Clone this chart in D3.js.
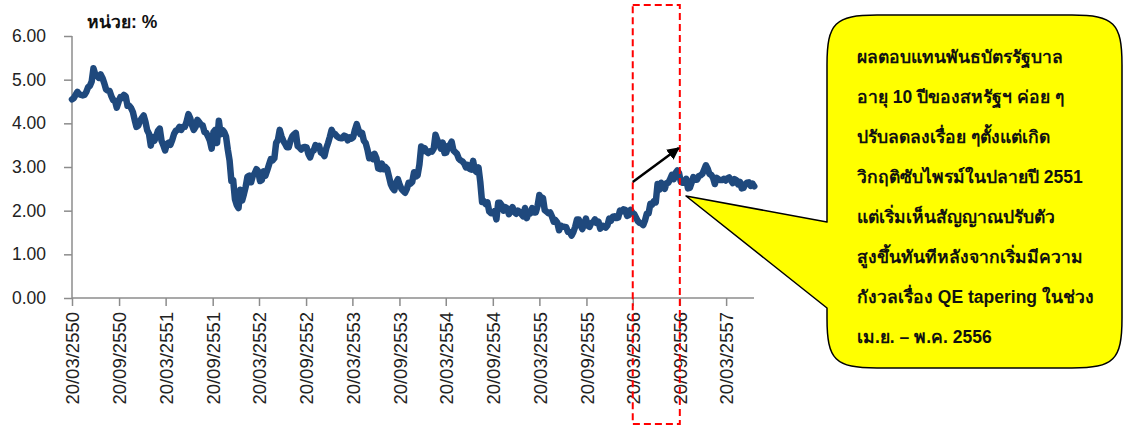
<!DOCTYPE html>
<html>
<head>
<meta charset="utf-8">
<script src="https://cdn.jsdelivr.net/npm/d3@7"></script>
<style>
  body { margin: 0; background: #fff; }
  svg text { font-family: "Liberation Sans", Arial, sans-serif; }
</style>
</head>
<body>
<div id="chart"></div>
<script>
// weekly 10Y US treasury yield (%), first point 20/03/2550 (2007-03-20)
const yields2007 = [4.55, 4.58, 4.65, 4.72, 4.67, 4.65, 4.64, 4.65, 4.72, 4.83, 4.86, 4.96, 5.26, 5.12, 5.09, 5.04, 5.12, 5.04, 4.92, 4.78,
  4.75, 4.74, 4.62, 4.53, 4.52, 4.36, 4.49, 4.60, 4.58, 4.65, 4.62, 4.40, 4.40, 4.35, 4.26, 4.08, 3.92, 3.95, 4.06, 4.12, 4.18];
const yields2008 = [4.04, 3.84, 3.76, 3.49, 3.69, 3.60, 3.70, 3.83, 3.88, 3.60, 3.50, 3.38, 3.53, 3.56, 3.51, 3.62, 3.76, 3.83, 3.85, 3.92,
  3.85, 3.92, 3.92, 4.04, 4.21, 4.12, 3.96, 3.85, 3.92, 4.08, 4.03, 3.97, 3.95, 3.80, 3.78, 3.70, 3.60, 3.42, 3.80, 3.85,
  3.55, 4.06, 3.75, 3.85, 3.80, 3.70, 3.40, 3.15, 2.68, 2.70, 2.26, 2.13, 2.06];
const yields2009 = [2.48, 2.23, 2.38, 2.55, 2.78, 2.80, 2.65, 2.80, 2.85, 2.95, 2.90, 2.68, 2.70, 2.90, 2.80, 2.92, 3.05, 3.18, 3.15, 3.20,
  3.55, 3.62, 3.85, 3.70, 3.60, 3.53, 3.45, 3.45, 3.60, 3.70, 3.75, 3.78, 3.48, 3.45, 3.40, 3.45, 3.46, 3.45, 3.30, 3.22,
  3.35, 3.38, 3.50, 3.45, 3.48, 3.33, 3.31, 3.25, 3.43, 3.55, 3.69, 3.85];
const yields2010 = [3.77, 3.75, 3.70, 3.67, 3.66, 3.66, 3.72, 3.70, 3.61, 3.68, 3.65, 3.68, 3.85, 3.98, 3.85, 3.75, 3.78, 3.60, 3.55, 3.40,
  3.20, 3.28, 3.18, 3.30, 3.20, 2.97, 2.95, 3.08, 2.95, 3.00, 2.95, 2.78, 2.61, 2.52, 2.47, 2.64, 2.72, 2.59, 2.50, 2.45,
  2.41, 2.50, 2.64, 2.62, 2.66, 2.88, 2.78, 2.81, 3.05, 3.47, 3.36, 3.43];
const yields2011 = [3.35, 3.32, 3.36, 3.35, 3.42, 3.74, 3.62, 3.52, 3.42, 3.56, 3.32, 3.33, 3.48, 3.50, 3.58, 3.38, 3.34, 3.30, 3.19, 3.15,
  3.13, 3.08, 2.99, 3.05, 2.96, 2.94, 3.14, 2.92, 2.88, 2.99, 2.66, 2.20, 2.22, 2.15, 2.19, 1.98, 1.94, 1.94, 1.99, 1.80,
  2.18, 2.18, 2.12, 2.00, 2.08, 2.05, 1.92, 1.99, 2.08, 1.97, 1.93, 2.00];
const yields2012 = [1.97, 1.92, 1.87, 2.06, 1.83, 1.98, 1.94, 2.06, 1.96, 1.96, 2.11, 2.36, 2.22, 2.29, 2.01, 1.98, 1.94, 1.96, 1.87, 1.75,
  1.78, 1.73, 1.55, 1.66, 1.63, 1.63, 1.62, 1.51, 1.51, 1.43, 1.51, 1.63, 1.80, 1.80, 1.66, 1.58, 1.70, 1.82, 1.66, 1.63,
  1.72, 1.73, 1.80, 1.72, 1.75, 1.59, 1.66, 1.64, 1.61, 1.66, 1.82, 1.77];
const yields2013 = [1.86, 1.87, 1.83, 1.84, 2.00, 1.98, 2.03, 2.02, 1.88, 1.90, 2.02, 1.95, 1.92, 1.84, 1.76, 1.72, 1.71, 1.67, 1.78, 1.93,
  1.94, 2.16, 2.14, 2.22, 2.19, 2.61, 2.48, 2.64, 2.54, 2.50, 2.63, 2.64, 2.72, 2.82, 2.72, 2.86, 2.92, 2.86, 2.66, 2.64,
  2.64, 2.73, 2.51, 2.52, 2.64, 2.77, 2.71, 2.71, 2.79, 2.81, 2.84, 2.94, 3.04];
const yields2014 = [2.96, 2.84, 2.82, 2.75, 2.61, 2.75, 2.72, 2.70, 2.70, 2.73, 2.69, 2.74, 2.76, 2.69, 2.63, 2.72, 2.70, 2.60, 2.66, 2.51,
  2.52, 2.61, 2.64, 2.65, 2.57, 2.62, 2.56];

const yTicks = [0, 1, 2, 3, 4, 5, 6];
const tickDates = ['2007-03-20', '2007-09-20', '2008-03-20', '2008-09-20', '2009-03-20', '2009-09-20', '2010-03-20', '2010-09-20',
  '2011-03-20', '2011-09-20', '2012-03-20', '2012-09-20', '2013-03-20', '2013-09-20', '2014-03-20'];
const tickLabels = ['20/03/2550', '20/09/2550', '20/03/2551', '20/09/2551', '20/03/2552', '20/09/2552', '20/03/2553', '20/09/2553',
  '20/03/2554', '20/09/2554', '20/03/2555', '20/09/2555', '20/03/2556', '20/09/2556', '20/03/2557'];
const unitLabel = 'หน่วย: %';
const noteLines = [
  'ผลตอบแทนพันธบัตรรัฐบาล',
  'อายุ 10 ปีของสหรัฐฯ ค่อย ๆ',
  'ปรับลดลงเรื่อย ๆตั้งแต่เกิด',
  'วิกฤติซับไพรม์ในปลายปี 2551',
  'แต่เริ่มเห็นสัญญาณปรับตัว',
  'สูงขึ้นทันทีหลังจากเริ่มมีความ',
  'กังวลเรื่อง QE tapering ในช่วง',
  'เม.ย. – พ.ค. 2556'
];

const parse = d3.timeParse('%Y-%m-%d');
const startDate = parse('2007-03-20');
const yields = [].concat(yields2007, yields2008, yields2009, yields2010, yields2011, yields2012, yields2013, yields2014);
const series = yields.map((v, i) => ({ date: d3.timeDay.offset(startDate, i * 7), value: v }));

const width = 1133, height = 427;
const svg = d3.select('#chart').append('svg')
  .attr('width', width)
  .attr('height', height);

const x = d3.scaleTime()
  .domain([startDate, parse('2014-07-07')])
  .range([72, 754]);
const y = d3.scaleLinear()
  .domain([0, 6])
  .range([298, 36]);

// y axis
const yAxis = svg.append('g')
  .attr('transform', 'translate(72,0)')
  .call(d3.axisLeft(y).tickValues(yTicks).tickSize(8).tickFormat(d3.format('.2f')));
yAxis.select('.domain').attr('stroke', '#8c8c8c').attr('stroke-width', 1.5).attr('d', `M0,${y(6)}V${y(0)}`);
yAxis.selectAll('.tick line').attr('stroke', '#8c8c8c').attr('stroke-width', 1.5);
yAxis.selectAll('.tick text')
  .attr('font-size', 17.5)
  .attr('fill', '#222')
  .attr('x', -26);

// x axis
const tickPos = tickDates.map(parse);
const xAxis = svg.append('g')
  .attr('transform', `translate(0,${y(0)})`)
  .call(d3.axisBottom(x).tickValues(tickPos).tickSize(8).tickFormat((d, i) => tickLabels[i]));
xAxis.select('.domain').attr('stroke', '#8c8c8c').attr('stroke-width', 1.5).attr('d', `M72,0H754`);
xAxis.selectAll('.tick line').attr('stroke', '#8c8c8c').attr('stroke-width', 1.5);
xAxis.selectAll('.tick text')
  .attr('font-size', 18.5)
  .attr('fill', '#222')
  .attr('text-anchor', 'end')
  .attr('transform', 'rotate(-90)')
  .attr('x', -14)
  .attr('y', 0)
  .attr('dy', '0.36em');

svg.append('text')
  .attr('x', 87)
  .attr('y', 28)
  .attr('font-size', 17.5)
  .attr('font-weight', 'bold')
  .attr('fill', '#111')
  .text(unitLabel);

// yield line
const line = d3.line()
  .x(d => x(d.date))
  .y(d => y(d.value));
svg.append('path')
  .datum(series)
  .attr('fill', 'none')
  .attr('stroke', '#1f497d')
  .attr('stroke-width', 6.5)
  .attr('stroke-linejoin', 'round')
  .attr('stroke-linecap', 'round')
  .attr('d', line);

// dashed box over the tapering period
const boxL = x(parse('2013-03-20')), boxR = x(parse('2013-09-20'));
svg.append('rect')
  .attr('x', boxL)
  .attr('y', 5)
  .attr('width', boxR - boxL)
  .attr('height', 419)
  .attr('fill', 'none')
  .attr('stroke', '#ff0000')
  .attr('stroke-width', 2)
  .attr('stroke-dasharray', '7,4');

// arrow
svg.append('defs').append('marker')
  .attr('id', 'head')
  .attr('viewBox', '0 0 10 10')
  .attr('refX', 9)
  .attr('refY', 5)
  .attr('markerWidth', 5)
  .attr('markerHeight', 5)
  .attr('orient', 'auto')
  .append('path')
  .attr('d', 'M0,0L10,5L0,10Z')
  .attr('fill', '#000');
svg.append('line')
  .attr('x1', boxL).attr('y1', 182)
  .attr('x2', boxR - 1).attr('y2', 148)
  .attr('stroke', '#000')
  .attr('stroke-width', 2.5)
  .attr('marker-end', 'url(#head)');

// callout
const cL = 827, cR = 1122, cT = 15, cB = 368, r = 50;
const tip = [686, 196];
const callout = `M${tip[0]},${tip[1]} L${cL},222 L${cL},${cT + r} C${cL},${cT + 8} ${cL + 8},${cT} ${cL + r},${cT} L${cR - r},${cT}
  C${cR - 8},${cT} ${cR},${cT + 8} ${cR},${cT + r} L${cR},${cB - r} C${cR},${cB - 8} ${cR - 8},${cB} ${cR - r},${cB} L${cL + r},${cB}
  C${cL + 8},${cB} ${cL},${cB - 8} ${cL},${cB - r} L${cL},308 Z`;
svg.append('path')
  .attr('d', callout)
  .attr('fill', '#ffff00')
  .attr('stroke', '#000')
  .attr('stroke-width', 1.5)
  .attr('stroke-linejoin', 'round');

svg.append('g')
  .selectAll('text')
  .data(noteLines)
  .join('text')
  .attr('x', 857)
  .attr('y', (d, i) => 63 + i * 40)
  .attr('font-size', 17.5)
  .attr('font-weight', 'bold')
  .attr('fill', '#111')
  .text(d => d);
</script>
</body>
</html>
